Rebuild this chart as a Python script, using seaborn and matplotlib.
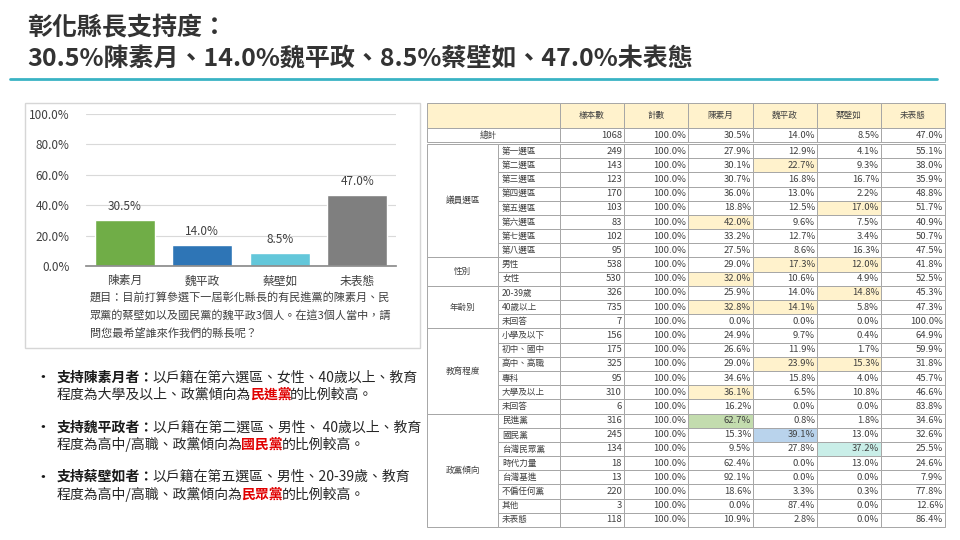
import numpy as np
import pandas as pd
import seaborn as sns
import matplotlib.pyplot as plt
from matplotlib.patches import Rectangle
from matplotlib.lines import Line2D
from matplotlib.ticker import PercentFormatter
from matplotlib.offsetbox import TextArea, HPacker, AnnotationBbox

FONT = ['Noto Sans CJK TC', 'DejaVu Sans']

# 圖表資料
candidates = ['陳素月', '魏平政', '蔡壁如', '未表態']
support = [30.5, 14.0, 8.5, 47.0]
bar_colors = ['#70ad47', '#2e75b6', '#63c7da', '#7f7f7f']

title_lines = ['彰化縣長支持度：', '30.5%陳素月、14.0%魏平政、8.5%蔡壁如、47.0%未表態']
question = ['題目：目前打算參選下一屆彰化縣長的有民進黨的陳素月、民',
            '眾黨的蔡壁如以及國民黨的魏平政3個人。在這3個人當中，請',
            '問您最希望誰來作我們的縣長呢？']

# 交叉表資料
table_header = ['樣本數', '計數', '陳素月', '魏平政', '蔡壁如', '未表態']
total_row = [1068, 100.0, 30.5, 14.0, 8.5, 47.0]
group_names = ['議員選區', '性別', '年齡別', '教育程度', '政黨傾向']
group_sizes = [8, 2, 3, 6, 8]
row_labels = ['第一選區', '第二選區', '第三選區', '第四選區', '第五選區', '第六選區', '第七選區', '第八選區',
              '男性', '女性',
              '20-39歲', '40歲以上', '未回答',
              '小學及以下', '初中、國中', '高中、高職', '專科', '大學及以上', '未回答',
              '民進黨', '國民黨', '台灣民眾黨', '時代力量', '台灣基進', '不偏任何黨', '其他', '未表態']
sample_n = [249, 143, 123, 170, 103, 83, 102, 95,
            538, 530,
            326, 735, 7,
            156, 175, 325, 95, 310, 6,
            316, 245, 134, 18, 13, 220, 3, 118]
pct_chen = [27.9, 30.1, 30.7, 36.0, 18.8, 42.0, 33.2, 27.5,
            29.0, 32.0,
            25.9, 32.8, 0.0,
            24.9, 26.6, 29.0, 34.6, 36.1, 16.2,
            62.7, 15.3, 9.5, 62.4, 92.1, 18.6, 0.0, 10.9]
pct_wei = [12.9, 22.7, 16.8, 13.0, 12.5, 9.6, 12.7, 8.6,
           17.3, 10.6,
           14.0, 14.1, 0.0,
           9.7, 11.9, 23.9, 15.8, 6.5, 0.0,
           0.8, 39.1, 27.8, 0.0, 0.0, 3.3, 87.4, 2.8]
pct_tsai = [4.1, 9.3, 16.7, 2.2, 17.0, 7.5, 3.4, 16.3,
            12.0, 4.9,
            14.8, 5.8, 0.0,
            0.4, 1.7, 15.3, 4.0, 10.8, 0.0,
            1.8, 13.0, 37.2, 13.0, 0.0, 0.3, 0.0, 0.0]
pct_none = [55.1, 38.0, 35.9, 48.8, 51.7, 40.9, 50.7, 47.5,
            41.8, 52.5,
            45.3, 47.3, 100.0,
            64.9, 59.9, 31.8, 45.7, 46.6, 83.8,
            34.6, 32.6, 25.5, 24.6, 7.9, 77.8, 12.6, 86.4]

# (列索引, 欄位, 底色)
highlights = [
    (1, '魏平政', 'yellow'),
    (4, '蔡壁如', 'yellow'),
    (5, '陳素月', 'yellow'),
    (8, '魏平政', 'yellow'), (8, '蔡壁如', 'yellow'),
    (9, '陳素月', 'yellow'),
    (10, '蔡壁如', 'yellow'),
    (11, '陳素月', 'yellow'), (11, '魏平政', 'yellow'),
    (15, '魏平政', 'yellow'), (15, '蔡壁如', 'yellow'),
    (17, '陳素月', 'yellow'),
    (19, '陳素月', 'green'),
    (20, '魏平政', 'blue'),
    (21, '蔡壁如', 'cyan'),
]
fill_colors = {'yellow': '#fff2cc', 'green': '#c3dcae', 'blue': '#b9d3ec', 'cyan': '#c9eee8'}

bullets = [
    [[('支持陳素月者：', 'b'), ('以戶籍在第六選區、女性、40歲以上、教育', 'n')],
     [('程度為大學及以上、政黨傾向為', 'n'), ('民進黨', 'r'), ('的比例較高。', 'n')]],
    [[('支持魏平政者：', 'b'), ('以戶籍在第二選區、男性、 40歲以上、教育', 'n')],
     [('程度為高中/高職、政黨傾向為', 'n'), ('國民黨', 'r'), ('的比例較高。', 'n')]],
    [[('支持蔡壁如者：', 'b'), ('以戶籍在第五選區、男性、20-39歲、教育', 'n')],
     [('程度為高中/高職、政黨傾向為', 'n'), ('民眾黨', 'r'), ('的比例較高。', 'n')]],
]

W, H = 960, 540


def fx(px):
    return px / W


def fy(py):
    return 1 - py / H


def rich_line(fig, x, y, parts, size):
    styles = {'n': ('#262626', 'normal'), 'b': ('#1a1a1a', 'bold'), 'r': ('#e00000', 'bold')}
    boxes = []
    for text, key in parts:
        color, weight = styles[key]
        boxes.append(TextArea(text, textprops=dict(fontsize=size, color=color,
                                                   fontweight=weight, family=FONT)))
    pack = HPacker(children=boxes, pad=0, sep=-1, align='baseline')
    ab = AnnotationBbox(pack, (fx(x), fy(y)), xycoords='figure fraction',
                        box_alignment=(0, 0.5), frameon=False, pad=0)
    fig.add_artist(ab)


sns.set_theme(style='white')
plt.rcParams['font.family'] = FONT

fig = plt.figure(figsize=(9.6, 5.4), dpi=100)

# 標題
fig.text(fx(27), fy(28), title_lines[0], fontsize=18, fontweight='bold', color='#333333', va='center')
fig.text(fx(27), fy(59), title_lines[1], fontsize=18, fontweight='bold', color='#333333', va='center')
fig.add_artist(Line2D([fx(10), fx(937)], [fy(79), fy(79)], color='#3ab3c4', lw=2))

# 長條圖外框
fig.add_artist(Rectangle((fx(25), fy(348)), fx(395), 245 / H, transform=fig.transFigure,
                         fill=False, edgecolor='#d6d6d6', lw=1))

ax = fig.add_axes([fx(86), fy(266), fx(310), 152 / H])
sns.barplot(x=candidates, y=support, hue=candidates, palette=bar_colors, width=0.77,
            saturation=1, legend=False, ax=ax)
for container in ax.containers:
    ax.bar_label(container, fmt='%.1f%%', padding=5, fontsize=8.5, color='#404040')
ax.set_ylim(0, 100)
ax.set_yticks([0, 20, 40, 60, 80, 100])
ax.yaxis.set_major_formatter(PercentFormatter(decimals=1))
ax.grid(axis='y', color='#d9d9d9', lw=0.8)
ax.set_axisbelow(True)
for side in ['top', 'right', 'left']:
    ax.spines[side].set_visible(False)
ax.spines['bottom'].set_color('#8c8c8c')
ax.tick_params(axis='both', length=0, labelsize=8.5, colors='#404040')
ax.tick_params(axis='y', pad=12)
ax.tick_params(axis='x', pad=6)
ax.set_xlabel('')
ax.set_ylabel('')

for i, line in enumerate(question):
    fig.text(fx(90), fy(297 + i * 18.5), line, fontsize=8, color='#404040', va='center')

# 重點說明
for i, (line1, line2) in enumerate(bullets):
    y0 = 378 + i * 49.5
    fig.text(fx(34), fy(y0), '•', fontsize=12, color='#1a1a1a', va='center')
    rich_line(fig, 57, y0, line1, 10)
    rich_line(fig, 57, y0 + 17, line2, 10)

# 交叉表
tx = fig.add_axes([fx(427), fy(527), fx(518), 424 / H])
tx.set_xlim(0, 518)
tx.set_ylim(424, 0)
tx.axis('off')

col_w = [71, 62, 64, 64, 65, 64, 64, 64]
col_x = np.concatenate([[0], np.cumsum(col_w)])
header_h = 25
total_h = 14
data_top = 41
row_h = (424 - data_top) / len(row_labels)
edge = '#a6a6a6'
txt = '#404040'
tsize = 6.8
lsize = 6.2


def cell(x0, y0, w, h, fc='white'):
    tx.add_patch(Rectangle((x0, y0), w, h, facecolor=fc, edgecolor=edge, lw=0.7, clip_on=False))


# 表頭
cell(0, 0, col_x[2], header_h, '#fff2cc')
for j, name in enumerate(table_header):
    x0 = col_x[j + 2]
    cell(x0, 0, col_w[j + 2], header_h, '#fff2cc')
    tx.text(x0 + col_w[j + 2] / 2, header_h / 2, name, ha='center', va='center', fontsize=lsize, color=txt)

# 總計
cell(0, header_h, col_x[2], total_h)
tx.text(col_x[2] / 2 - 5, header_h + total_h / 2, '總計', ha='center', va='center', fontsize=lsize, color=txt)


def fmt_cell(j, v):
    return f'{v:d}' if j == 0 else f'{v:.1f}%'


for j, v in enumerate(total_row):
    x0 = col_x[j + 2]
    cell(x0, header_h, col_w[j + 2], total_h)
    tx.text(x0 + col_w[j + 2] - 2, header_h + total_h / 2, fmt_cell(j, v),
            ha='right', va='center', fontsize=tsize, color=txt)

# 群組欄
start = 0
for name, size in zip(group_names, group_sizes):
    y0 = data_top + start * row_h
    cell(0, y0, col_w[0], size * row_h)
    tx.text(col_w[0] / 2, y0 + size * row_h / 2, name, ha='center', va='center', fontsize=lsize, color=txt)
    start += size

table = pd.DataFrame({'樣本數': sample_n, '計數': [100.0] * len(row_labels), '陳素月': pct_chen,
                      '魏平政': pct_wei, '蔡壁如': pct_tsai, '未表態': pct_none})
fills = {(r, c): fill_colors[k] for r, c, k in highlights}

for i, label in enumerate(row_labels):
    y0 = data_top + i * row_h
    cell(col_x[1], y0, col_w[1], row_h)
    tx.text(col_x[1] + 4, y0 + row_h / 2, label, ha='left', va='center', fontsize=lsize, color=txt)
    for j, col in enumerate(table_header):
        x0 = col_x[j + 2]
        v = table[col].iloc[i]
        cell(x0, y0, col_w[j + 2], row_h, fills.get((i, col), 'white'))
        tx.text(x0 + col_w[j + 2] - 2, y0 + row_h / 2, fmt_cell(j, int(v) if j == 0 else v),
                ha='right', va='center', fontsize=tsize, color=txt)

fig.savefig('out.png', dpi=100)
